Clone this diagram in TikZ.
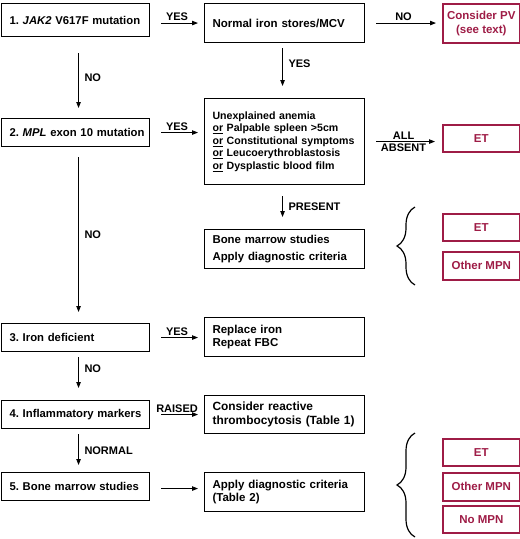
\documentclass[tikz,border=0pt]{standalone}
\usepackage{fontspec}
\setmainfont{Liberation Sans}
\usetikzlibrary{arrows.meta, positioning, calc, decorations.pathreplacing}
\definecolor{mpnRed}{RGB}{158, 28, 70}
\frenchspacing

\begin{document}
\begin{tikzpicture}[
        x=1pt, y=-1pt,
        qbox/.style={rectangle, draw=black, line width=1.1pt, anchor=north west, minimum height=28pt, text width=140pt, inner xsep=4pt, align=left, font=\fontsize{11.3}{13.5}\selectfont\bfseries},
        abox/.style={rectangle, draw=black, line width=1.1pt, anchor=north west, minimum height=39pt, text width=144pt, inner xsep=8pt, align=left, font=\fontsize{11.5}{13.5}\selectfont\bfseries},
        rbox/.style={rectangle, draw=mpnRed, line width=1.6pt, anchor=north west, minimum width=77pt, minimum height=27pt, inner sep=2pt, align=center, text=mpnRed, font=\fontsize{11.5}{14}\selectfont\bfseries},
        lbl/.style={inner sep=1.5pt, font=\fontsize{11}{13}\selectfont\bfseries},
        arrow/.style={-{Triangle[length=6pt, width=4.5pt]}, line width=0.9pt},
        curly/.style={decorate, decoration={brace, amplitude=18pt}, line width=1.2pt}
    ]
        \useasboundingbox (0,0) rectangle (520,539);

        % Questions
        \node[qbox, minimum height=33pt] (q1) at (1,3) {\hspace*{4pt}1. \textit{JAK2} V617F mutation};
        \node[qbox] (q2) at (1,118) {\hspace*{4pt}2. \textit{MPL} exon 10 mutation};
        \node[qbox] (q3) at (1,323) {\hspace*{4pt}3. Iron deficient};
        \node[qbox] (q4) at (1,400) {\hspace*{4pt}4. Inflammatory markers};
        \node[qbox] (q5) at (1,472) {\hspace*{4pt}5. Bone marrow studies};

        % Actions
        \node[abox] (a1) at (204,3) {Normal iron stores/MCV};
        \node[abox, minimum height=86pt, font=\fontsize{10.6}{12.5}\selectfont\bfseries] (a2) at (204,98)
            {Unexplained anemia\\ \underline{or} Palpable spleen >5cm\\ \underline{or} Constitutional symptoms\\ \underline{or} Leucoerythroblastosis\\ \underline{or} Dysplastic blood film};
        \node[abox, font=\fontsize{11.4}{16.3}\selectfont\bfseries] (a3) at (204,229) {Bone marrow studies\\ Apply diagnostic criteria};
        \node[abox] (a4) at (204,317) {Replace iron\\ Repeat FBC};
        \node[abox, minimum height=38pt, font=\fontsize{11.9}{13.5}\selectfont\bfseries] (a5) at (204,395) {Consider reactive\\ thrombocytosis (Table 1)};
        \node[abox] (a6) at (204,472) {Apply diagnostic criteria\\ (Table 2)};

        % Results
        \node[rbox, minimum height=39pt] (r1) at (442,3) {Consider PV\\ (see text)};
        \node[rbox] (r2) at (442,124) {ET};
        \node[rbox] (r3) at (442,213) {ET};
        \node[rbox, minimum height=28pt] (r4) at (442,251) {Other MPN};
        \node[rbox] (r5) at (442,438) {ET};
        \node[rbox, minimum height=28pt] (r6) at (442,472) {Other MPN};
        \node[rbox] (r7) at (442,505) {No MPN};

        % Arrows
        \draw[arrow, shorten <=11pt, shorten >=6pt] (q1.east |- a1.west) -- (a1.west) node[lbl, midway, above] {YES};
        \draw[arrow, shorten <=11pt, shorten >=6pt] (q2.east) -- (q2.east -| a2.west) node[lbl, midway, above] {YES};
        \draw[arrow, shorten <=11pt, shorten >=6pt] (q3.east) -- (q3.east -| a4.west) node[lbl, midway, above] {YES};
        \draw[arrow, shorten <=11pt, shorten >=6pt] (q4.east) -- (q4.east -| a5.west) node[lbl, midway, above] {RAISED};
        \draw[arrow, shorten <=11pt, shorten >=6pt] ([yshift=-2pt]q5.east) -- ([yshift=-2pt]q5.east -| a6.west);
        \draw[arrow, shorten <=11pt, shorten >=6pt] (a1.east) -- (a1.east -| r1.west) node[lbl, midway, above] {NO};
        \draw[arrow, shorten <=11pt, shorten >=7pt] (a2.east) -- (a2.east -| r2.west)
            node[lbl, midway, above] {ALL} node[lbl, midway, below] {ABSENT};

        \draw[arrow, shorten <=16pt, shorten >=10pt] ([xshift=3pt]q1.south) -- ([xshift=3pt]q2.north) node[lbl, midway, right=4pt] {NO};
        \draw[arrow, shorten <=10pt, shorten >=11pt] ([xshift=3pt]q2.south) -- ([xshift=3pt]q3.north) node[lbl, midway, right=4pt] {NO};
        \draw[arrow, shorten <=5pt, shorten >=12pt] ([xshift=3pt]q3.south) -- ([xshift=3pt]q4.north) node[lbl, pos=0.35, right=4pt] {NO};
        \draw[arrow, shorten <=5pt, shorten >=7pt] ([xshift=3pt]q4.south) -- ([xshift=3pt]q5.north) node[lbl, midway, right=4pt] {NORMAL};
        \draw[arrow, shorten <=5pt, shorten >=12pt] ([xshift=-2pt]a1.south) -- ([xshift=-2pt]a2.north) node[lbl, pos=0.38, right=4pt] {YES};
        \draw[arrow, shorten <=11pt, shorten >=12pt] ([xshift=-2pt]a2.south) -- ([xshift=-2pt]a3.north) node[lbl, midway, right=4pt] {PRESENT};

        % Braces
        \draw[curly] (415,285) -- (415,207);
        \draw[curly] (415,537) -- (415,433);
    \end{tikzpicture}
\end{document}
